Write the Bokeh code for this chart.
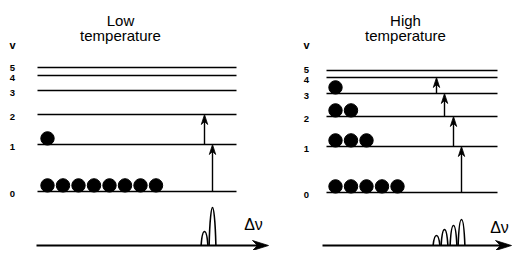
from bokeh.plotting import figure
from bokeh.models import Range1d
from bokeh.embed import file_html
from bokeh.resources import INLINE
from bokeh.core.properties import value

# ---------------- data ----------------
panel_titles = ["Low", "High"]
title_second_line = "temperature"
quantum_label = "v"
axis_label = "\u0394\u03bd"
level_labels = ["0", "1", "2", "3", "4", "5"]

# vibrational level positions (diagram units, downward axis)
low_level_y = [191, 144, 114, 90, 75, 67]
high_level_y = [192, 146, 116, 93, 77, 70]

# number of molecules in each level
low_population = [8, 1, 0, 0, 0, 0]
high_population = [5, 3, 2, 1, 0, 0]

# transitions v -> v+1 : frequency position and band intensity
low_transition_x = [212, 204]
low_intensity = [38, 14]
high_transition_x = [461, 453, 444, 436]
high_intensity = [26, 20, 16, 10]

# ---------------- figure ----------------
FONT = value("Liberation Sans")
p = figure(width=512, height=250, output_backend="svg", toolbar_location=None,
           x_range=Range1d(0, 512), y_range=Range1d(250, 0),
           x_axis_type=None, y_axis_type=None, min_border=0,
           background_fill_color="white", border_fill_color="white")
p.outline_line_color = None
p.grid.visible = False

panels = [
    dict(title=panel_titles[0], tx=120, lab_x=12, lx0=37, lx1=236, ball_x=47,
         ax0=36, ax1=268, dx=253, dy=224,
         levels=low_level_y, pop=low_population,
         tr=low_transition_x, inten=low_intensity),
    dict(title=panel_titles[1], tx=405, lab_x=306, lx0=326, lx1=497, ball_x=335,
         ax0=322, ax1=511, dx=499, dy=227,
         levels=high_level_y, pop=high_population,
         tr=high_transition_x, inten=high_intensity),
]

base_y = 245
ball_r = 6.7
ball_dx = 15.5
head_len = 10
head_hw = 3.2

for pn in panels:
    lv = pn["levels"]
    # titles
    p.text(x=[pn["tx"]], y=[20], text=[pn["title"]], text_font=FONT,
           text_font_size="15px", text_align="center", text_baseline="alphabetic",
           text_color="black")
    p.text(x=[pn["tx"]], y=[34.5], text=[title_second_line], text_font=FONT,
           text_font_size="15px", text_align="center", text_baseline="alphabetic",
           text_color="black")
    # v label and level numbers (spread apart where levels crowd together)
    p.text(x=[pn["lab_x"]], y=[44], text=[quantum_label], text_font=FONT,
           text_font_size="11px", text_font_style="bold", text_align="center",
           text_baseline="middle", text_color="black")
    lab_y = []
    for i, v in enumerate(lv):
        yy = v + 2.5
        if i > 0:
            yy = min(yy, lab_y[-1] - 10)
        lab_y.append(yy)
    p.text(x=[pn["lab_x"]] * len(lv), y=lab_y, text=level_labels,
           text_font=FONT, text_font_size="9.5px", text_font_style="bold",
           text_align="center", text_baseline="middle", text_color="black")
    # level lines
    p.segment(x0=[pn["lx0"]] * len(lv), y0=lv, x1=[pn["lx1"]] * len(lv), y1=lv,
              line_color="black", line_width=1.4)
    # molecules
    bx, by = [], []
    for i, n in enumerate(pn["pop"]):
        for k in range(n):
            bx.append(pn["ball_x"] + k * ball_dx)
            by.append(lv[i] - ball_r + 0.6)
    p.circle(x=bx, y=by, radius=ball_r, fill_color="black", line_color="black")
    # transition arrows
    sx0, sy0, sx1, sy1, hx, hy = [], [], [], [], [], []
    for i, x in enumerate(pn["tr"]):
        y0, y1 = lv[i], lv[i + 1]
        sx0.append(x); sy0.append(y0); sx1.append(x); sy1.append(y1 + head_len * 0.6)
        hx.append([x, x - head_hw, x, x + head_hw])
        hy.append([y1, y1 + head_len, y1 + head_len * 0.7, y1 + head_len])
    p.segment(x0=sx0, y0=sy0, x1=sx1, y1=sy1, line_color="black", line_width=1.4)
    p.patches(xs=hx, ys=hy, fill_color="black", line_color="black", line_width=0.8)
    # spectrum: bands
    w = 3.4
    cs = pn["tr"]
    hs = pn["inten"]
    p.bezier(x0=[c - w for c in cs], y0=[base_y] * len(cs),
             x1=[c + w for c in cs], y1=[base_y] * len(cs),
             cx0=[c - w * 0.6 for c in cs], cy0=[base_y - h / 0.75 for h in hs],
             cx1=[c + w * 0.6 for c in cs], cy1=[base_y - h / 0.75 for h in hs],
             line_color="black", line_width=1.6)
    # spectrum axis with arrow
    p.segment(x0=[pn["ax0"]], y0=[base_y], x1=[pn["ax1"] - 8], y1=[base_y],
              line_color="black", line_width=1.8)
    t = pn["ax1"]
    p.patches(xs=[[t, t - 16, t - 11, t - 16]],
              ys=[[base_y, base_y - 5, base_y, base_y + 5]],
              fill_color="black", line_color="black", line_width=0.8)
    p.text(x=[pn["dx"]], y=[pn["dy"]], text=[axis_label], text_font=FONT,
           text_font_size="16px", text_align="center", text_baseline="middle",
           text_color="black")

open("out.html", "w").write(file_html(p, INLINE))
